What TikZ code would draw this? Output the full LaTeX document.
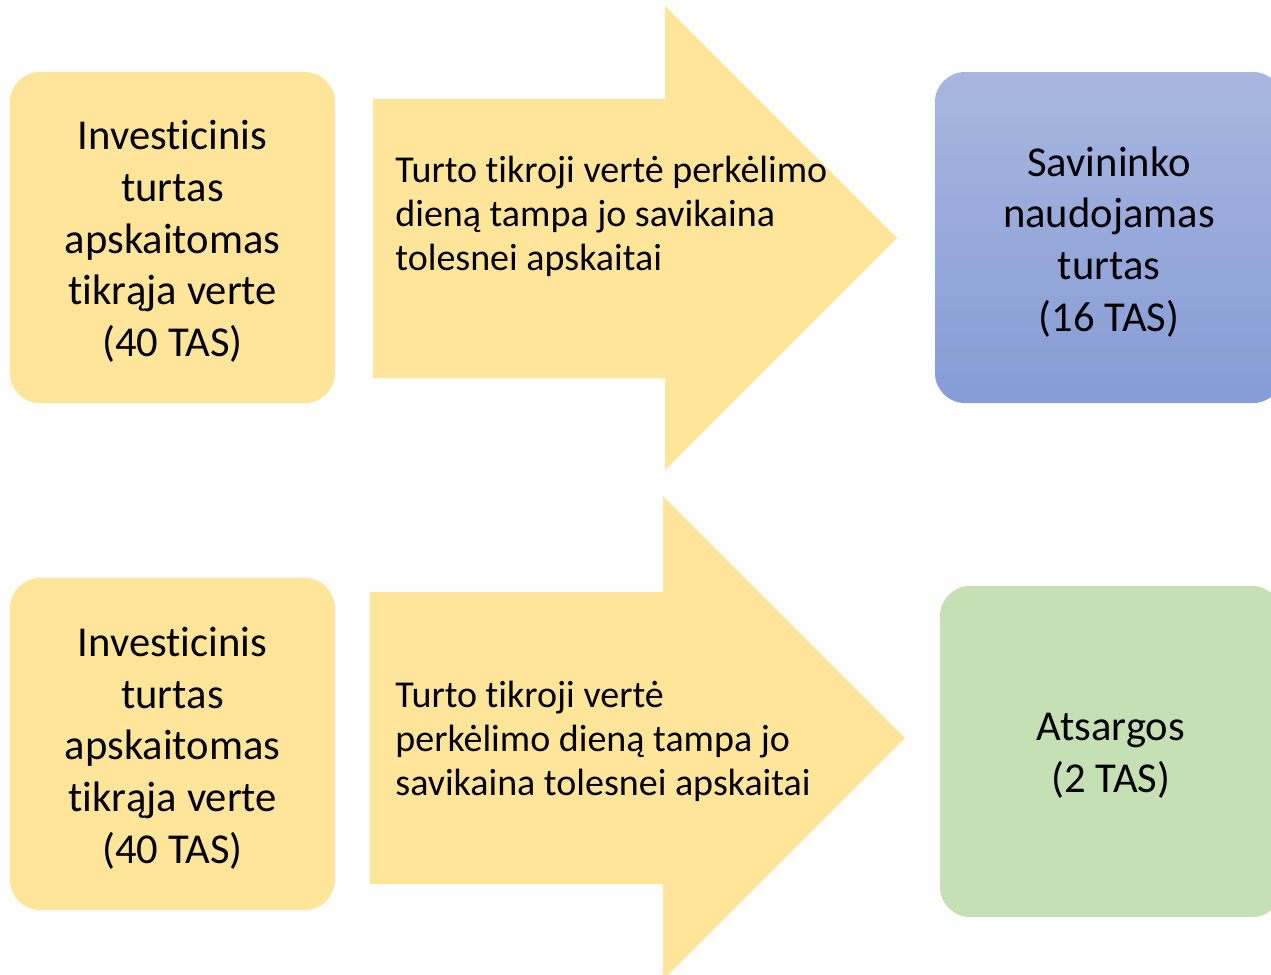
\documentclass[tikz,border=0pt]{standalone}
\usepackage{fontspec}
\setmainfont{Carlito}[Ligatures=NoCommon]
\tikzset{>=stealth}
\definecolor{gold}{RGB}{255,229,153}
\definecolor{leaf}{RGB}{197,224,180}
\definecolor{skytop}{RGB}{168,182,224}
\definecolor{skybot}{RGB}{134,156,214}

\begin{document}
\begin{tikzpicture}[x=0.5pt,y=-0.5pt,
    card/.style={rounded corners=15pt},
    boxtext/.style={inner sep=0pt, align=center,
        font=\fontsize{21.3}{25.85}\selectfont},
    arrowtext/.style={inner sep=0pt, align=left, anchor=base west,
        font=\fontsize{19}{22}\selectfont}]
    \useasboundingbox (0,0) rectangle (1271,975);
    % transfer arrows
    \fill[gold] (373,99) -- (665,99) -- (665,6) -- (897,238) -- (665,470)
        -- (665,378) -- (373,378) -- cycle;
    \fill[gold] (370,592) -- (663,592) -- (663,496) -- (905,738) -- (663,980)
        -- (663,884) -- (370,884) -- cycle;
    % boxes
    \fill[gold, card] (10,72) rectangle (335,403);
    \shade[top color=skytop, bottom color=skybot, card] (935,72) rectangle (1283,403);
    \fill[gold, card] (10,578) rectangle (335,910);
    \fill[leaf, card] (940,586) rectangle (1282,917);
    % top row
    \node[boxtext] (inv1) at (172.5,241.5)
        {Investicinis\\turtas\\apskaitomas\\tikrąja verte\\(40 TAS)};
    \node[arrowtext] (rule1) at (395,270)
        {Turto tikroji vertė perkėlimo\\dieną tampa jo savikaina\\tolesnei apskaitai};
    \node[boxtext] (own) at (1109,242)
        {Savininko\\naudojamas\\turtas\\(16 TAS)};
    % bottom row
    \node[boxtext] (inv2) at (172.5,748)
        {Investicinis\\turtas\\apskaitomas\\tikrąja verte\\(40 TAS)};
    \node[arrowtext] (rule2) at (395,795)
        {Turto tikroji vertė\\perkėlimo dieną tampa jo\\savikaina tolesnei apskaitai};
    \node[boxtext] (stock) at (1111,755.5)
        {Atsargos\\(2 TAS)};
\end{tikzpicture}
\end{document}
